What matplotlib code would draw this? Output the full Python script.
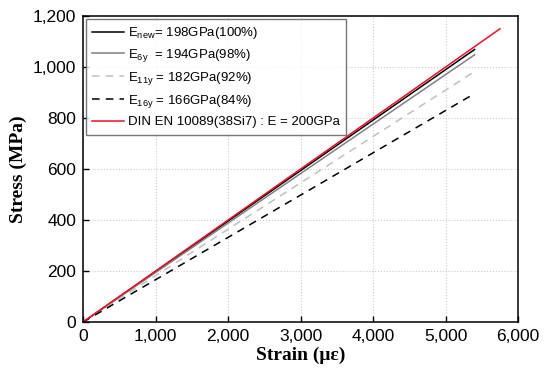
import matplotlib
matplotlib.use("Agg")
import matplotlib.pyplot as plt
from matplotlib.ticker import FuncFormatter

# end points of each stress-strain line
strain_new = [0, 5400]
stress_new = [0, 1069]
strain_6y = [0, 5400]
stress_6y = [0, 1048]
strain_11y = [0, 5370]
stress_11y = [0, 977]
strain_16y = [0, 5340]
stress_16y = [0, 886]
strain_din = [0, 5750]
stress_din = [0, 1150]

labels = [
    r"E$_{\rm new}$= 198GPa(100%)",
    r"E$_{\rm 6y}$  = 194GPa(98%)",
    r"E$_{\rm 11y}$ = 182GPa(92%)",
    r"E$_{\rm 16y}$ = 166GPa(84%)",
    "DIN EN 10089(38Si7) : E = 200GPa",
]

plt.rcParams["font.family"] = ["Liberation Sans", "DejaVu Sans"]
plt.rcParams["mathtext.fontset"] = "custom"
plt.rcParams["mathtext.rm"] = "Liberation Sans"

fig = plt.figure(figsize=(5.5, 3.82), dpi=100)
ax = fig.add_axes([0.151, 0.157, 0.791, 0.801])

ax.plot(strain_new, stress_new, color="black", lw=1.1, label=labels[0])
ax.plot(strain_6y, stress_6y, color="#808080", lw=1.1, label=labels[1])
ax.plot(strain_11y, stress_11y, color="#c0c0c0", lw=1.1, ls=(0, (5, 4)), label=labels[2])
ax.plot(strain_16y, stress_16y, color="black", lw=1.1, ls=(0, (5, 4)), label=labels[3])
ax.plot(strain_din, stress_din, color="#e8102a", lw=1.1, label=labels[4])

ax.set_xlim(0, 6000)
ax.set_ylim(0, 1200)
ax.set_xticks(range(0, 6001, 1000))
ax.set_yticks(range(0, 1201, 200))
fmt = FuncFormatter(lambda v, p: f"{int(v):,}")
ax.xaxis.set_major_formatter(fmt)
ax.yaxis.set_major_formatter(fmt)
ax.tick_params(direction="in", length=4, labelsize=12.5, width=1, pad=5)
ax.grid(True, color="#cccccc", ls=":", lw=0.8)
for s in ax.spines.values():
    s.set_linewidth(1.1)

ax.set_xlabel("Strain (με)", family="Liberation Serif", fontweight="bold", fontsize=14, labelpad=2)
ax.set_ylabel("Stress (MPa)", family="Liberation Serif", fontweight="bold", fontsize=14, labelpad=4)

leg = ax.legend(loc="upper left", fontsize=9.5, frameon=True, fancybox=False,
                handlelength=2.4, handletextpad=0.3, borderaxespad=0.2,
                labelspacing=0.45, borderpad=0.5)
leg.get_frame().set_edgecolor("#555555")
leg.get_frame().set_linewidth(1.0)

fig.savefig("out.png", dpi=100)
